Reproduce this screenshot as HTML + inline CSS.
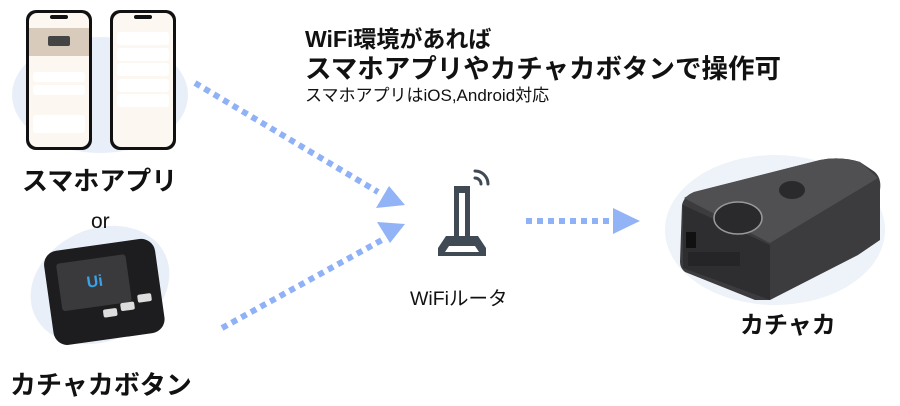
<!DOCTYPE html>
<html><head><meta charset="utf-8"><style>
html,body{margin:0;padding:0;background:#fff;}
svg{display:block;font-family:"Liberation Sans","Noto Sans CJK JP",sans-serif;}
</style></head><body>
<svg width="900" height="406" viewBox="0 0 900 406" xmlns="http://www.w3.org/2000/svg">
<ellipse cx="100" cy="95" rx="88" ry="58" fill="#e9eff8"/>
<ellipse cx="100" cy="285" rx="72" ry="56" fill="#e9eff8" transform="rotate(-25 100 285)"/>
<ellipse cx="775" cy="230" rx="110" ry="75" fill="#eef2f9"/>
<g>
<rect x="26" y="10" width="66" height="140" rx="10" fill="#111"/>
<rect x="29" y="13" width="60" height="134" rx="8" fill="#fcf7f1"/>
<rect x="29" y="28" width="60" height="28" fill="#d8cbbb"/>
<rect x="48" y="36" width="22" height="10" rx="2" fill="#444"/>
<rect x="33" y="72" width="52" height="10" rx="3" fill="#fff"/>
<rect x="33" y="85" width="52" height="10" rx="3" fill="#fff"/>
<rect x="33" y="115" width="52" height="18" rx="3" fill="#fff"/>
<rect x="50" y="15" width="18" height="4" rx="2" fill="#111"/>
<rect x="110" y="10" width="66" height="140" rx="10" fill="#111"/>
<rect x="113" y="13" width="60" height="134" rx="8" fill="#fcf7f1"/>
<rect x="117" y="32" width="52" height="13" rx="3" fill="#fff"/>
<rect x="117" y="48" width="52" height="13" rx="3" fill="#fff"/>
<rect x="117" y="63" width="52" height="13" rx="3" fill="#fff"/>
<rect x="117" y="79" width="52" height="13" rx="3" fill="#fff"/>
<rect x="117" y="94" width="52" height="13" rx="3" fill="#fff"/>
<rect x="134" y="15" width="18" height="4" rx="2" fill="#111"/>
</g>
<text x="22" y="190" font-size="26" font-weight="bold" fill="#111">スマホアプリ</text>
<text x="91" y="228" font-size="21" fill="#111">or</text>
<g transform="rotate(-8 100 290)">
<rect x="48" y="245" width="112" height="95" rx="14" fill="#1d1d1f"/>
<rect x="60" y="258" width="70" height="48" rx="3" fill="#3a3a3c"/>
<text x="88" y="286" font-size="16" font-weight="bold" fill="#3aa2e8">Ui</text>
<rect x="100" y="310" width="14" height="8" rx="2" fill="#ddd"/>
<rect x="118" y="306" width="14" height="8" rx="2" fill="#ddd"/>
<rect x="136" y="300" width="14" height="8" rx="2" fill="#ddd"/>
</g>
<text x="10" y="394" font-size="26" font-weight="bold" fill="#111">カチャカボタン</text>
<text x="305" y="47" font-size="23" font-weight="bold" fill="#111">WiFi環境があれば</text>
<text x="305" y="78" font-size="26.5" font-weight="bold" fill="#111">スマホアプリやカチャカボタンで操作可</text>
<text x="305" y="101" font-size="17" fill="#111">スマホアプリはiOS,Android対応</text>
<g stroke="#8fb1f6" stroke-width="6" stroke-dasharray="6,5" fill="none">
<line x1="195" y1="83" x2="378" y2="192"/>
<line x1="222" y1="328" x2="382" y2="240"/>
<line x1="526" y1="221" x2="612" y2="221"/>
</g>
<g fill="#93b3f7">
<polygon points="405,205 376,208 389,186"/>
<polygon points="405,224 377,222 390,243"/>
<polygon points="640,221 613,208 613,234"/>
</g>
<g fill="#404a55">
<rect x="454" y="186" width="16" height="58"/>
<rect x="459" y="193" width="6" height="44" fill="#fff"/>
<path d="M446 236 h32 l8 12 v8 h-48 v-8 z"/>
<path d="M449 246 h26 l4 6 h-34 z" fill="#fff"/>
</g>
<g stroke="#404a55" stroke-width="3" fill="none" stroke-linecap="round">
<path d="M475 178 a6 6 0 0 1 6 6"/>
<path d="M475 171 a13 13 0 0 1 13 13"/>
</g>
<text x="410" y="305" font-size="19.5" fill="#111">WiFiルータ</text>
<g>
<path d="M682 205 Q684 196 694 192 L820 160 Q840 156 860 162 L872 170 Q882 176 880 190 L880 240 L858 255 L770 300 L755 300 L685 272 Q680 268 680 262 Z" fill="#3c3c3e"/>
<path d="M684 198 L694 192 L820 160 Q840 156 860 162 L878 178 L770 243 Z" fill="#505053"/>
<path d="M683 205 L770 245 L770 300 L683 268 Z" fill="#2e2e30"/>
<ellipse cx="738" cy="218" rx="24" ry="16" fill="#2a2a2c" stroke="#999" stroke-width="1.5"/>
<ellipse cx="792" cy="190" rx="13" ry="9" fill="#2a2a2c"/>
<rect x="686" y="232" width="10" height="16" fill="#111"/>
<rect x="688" y="252" width="52" height="14" fill="#252527"/>
</g>
<text x="740" y="333" font-size="24" font-weight="bold" fill="#111">カチャカ</text>
</svg>
</body></html>
